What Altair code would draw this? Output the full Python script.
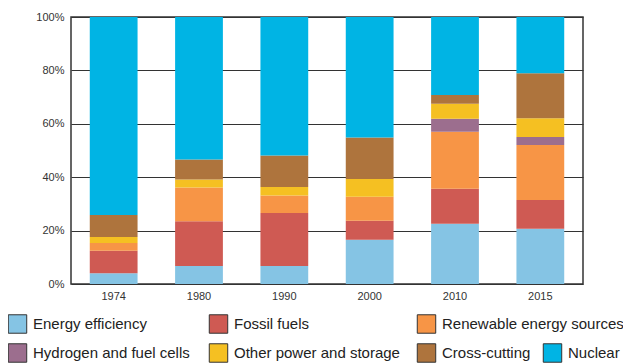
import altair as alt
import pandas as pd

years = ["1974", "1980", "1990", "2000", "2010", "2015"]
categories = ["Energy efficiency", "Fossil fuels", "Renewable energy sources",
              "Hydrogen and fuel cells", "Other power and storage", "Cross-cutting", "Nuclear"]
colors = ["#85C4E4", "#CF5A53", "#F79546", "#9C6E8E", "#F5C022", "#AE743D", "#00B4E4"]

energy_efficiency = [4.0, 6.7, 6.7, 16.6, 22.6, 20.7]
fossil_fuels = [8.5, 16.8, 19.9, 7.1, 13.1, 10.8]
renewables = [2.9, 12.6, 6.5, 9.0, 21.3, 20.6]
hydrogen = [0.0, 0.0, 0.0, 0.0, 4.9, 3.0]
other_power = [2.2, 3.0, 3.2, 6.6, 5.6, 7.0]
cross_cutting = [8.2, 7.5, 11.8, 15.6, 3.3, 16.8]
nuclear = [74.2, 53.4, 51.9, 45.1, 29.2, 21.1]

series = [energy_efficiency, fossil_fuels, renewables, hydrogen, other_power, cross_cutting, nuclear]

rows = []
for ci, (cat, vals) in enumerate(zip(categories, series)):
    for y, v in zip(years, vals):
        rows.append({"year": y, "category": cat, "value": v, "order": ci})
df = pd.DataFrame(rows)

# legend layout (pixel offsets relative to the plot area's top-left)
legend_cols = [-63, 138, 346, -63, 138, 346, 472]
legend_rows = [307, 307, 307, 336, 336, 336, 336]
leg = pd.DataFrame({"category": categories, "color": colors,
                    "sx": [c + 9.5 for c in legend_cols],
                    "tx": [c + 25 for c in legend_cols],
                    "ly": legend_rows})

FONT = "Liberation Sans, Arial, sans-serif"

color_scale = alt.Scale(domain=categories, range=colors)

bars = alt.Chart(df).mark_bar().encode(
    x=alt.X("year:N", sort=years, title=None,
            scale=alt.Scale(paddingInner=0.44, paddingOuter=0.22),
            axis=alt.Axis(labelAngle=0, ticks=False, domain=False, grid=False,
                          labelFont=FONT, labelFontSize=11, labelColor="#333",
                          labelPadding=6)),
    y=alt.Y("value:Q", stack="zero", title=None,
            scale=alt.Scale(domain=[0, 100], nice=False),
            axis=alt.Axis(values=[0, 20, 40, 60, 80, 100],
                          labelExpr="datum.value + '%'",
                          ticks=False, domain=False, grid=True,
                          gridColor="#333", gridWidth=1.2, gridOpacity=1,
                          labelFont=FONT, labelFontSize=11, labelColor="#333",
                          labelPadding=7)),
    color=alt.Color("category:N", scale=color_scale, legend=None),
    order=alt.Order("order:Q", sort="ascending"),
)

squares = alt.Chart(leg).mark_square(size=340, stroke="#333", strokeWidth=1, opacity=1).encode(
    x=alt.X("sx:Q", scale=None),
    y=alt.Y("ly:Q", scale=None),
    color=alt.Color("category:N", scale=color_scale, legend=None),
)

texts = alt.Chart(leg).mark_text(align="left", baseline="middle", font=FONT,
                                 fontSize=15, color="#222").encode(
    x=alt.X("tx:Q", scale=None),
    y=alt.Y("ly:Q", scale=None),
    text="category:N",
)

chart = alt.layer(bars, squares, texts).properties(
    width=512, height=267,
    autosize=alt.AutoSizeParams(type="none"),
    padding={"left": 63, "top": 9, "right": 40, "bottom": 79},
).configure_view(stroke="#333", strokeWidth=1.5, clip=False)

chart.save("out.html", embed_options={"renderer": "svg", "actions": False})
